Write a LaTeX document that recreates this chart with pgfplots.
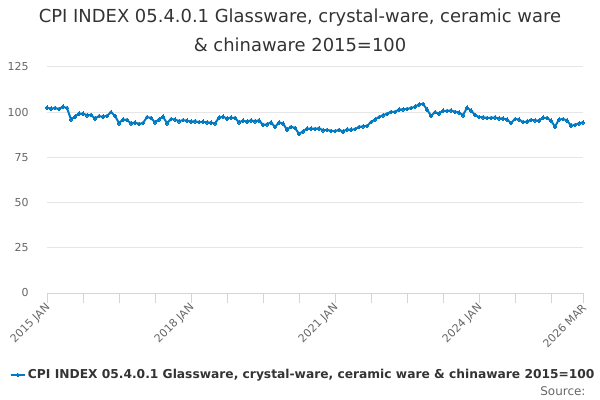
\documentclass[border=0pt]{standalone}
\usepackage{fontspec}
\setmainfont{DejaVu Sans}
\usepackage{pgfplots}
\usepackage{pgfplotstable}
\pgfplotsset{compat=1.18}
\definecolor{linec}{RGB}{0,122,195}
\definecolor{axisc}{RGB}{204,214,235}
\definecolor{gridc}{RGB}{230,230,230}
\definecolor{labc}{RGB}{102,102,102}
\definecolor{titc}{RGB}{51,51,51}
\pgfplotstableread{
m v
0 102.5
1 102.0
2 102.3
3 101.8
4 103.0
5 102.3
6 96.0
7 97.5
8 99.3
9 99.2
10 98.3
11 98.5
12 96.5
13 97.8
14 97.5
15 98.0
16 100.0
17 98.0
18 93.9
19 96.0
20 95.7
21 93.8
22 94.3
23 93.5
24 94.0
25 97.3
26 96.8
27 94.4
28 96.0
29 97.5
30 93.9
31 96.2
32 96.0
33 95.0
34 95.6
35 95.3
36 94.8
37 95.0
38 94.5
39 94.7
40 94.4
41 94.2
42 93.8
43 97.0
44 97.5
45 96.5
46 97.0
47 96.8
48 94.4
49 95.3
50 94.8
51 95.5
52 95.0
53 95.5
54 93.0
55 93.3
56 94.4
57 91.8
58 94.4
59 93.8
60 90.3
61 91.9
62 91.3
63 88.0
64 89.4
65 90.9
66 91.0
67 90.8
68 91.1
69 90.0
70 90.2
71 89.7
72 89.5
73 90.2
74 89.3
75 90.5
76 90.3
77 90.6
78 91.8
79 92.2
80 92.4
81 94.5
82 96.0
83 97.3
84 98.3
85 99.1
86 100.2
87 100.2
88 101.5
89 101.6
90 101.8
91 102.3
92 103.0
93 104.3
94 104.6
95 101.5
96 98.0
97 100.0
98 99.3
99 100.8
100 100.7
101 101.0
102 100.2
103 99.9
104 98.3
105 102.5
106 101.0
107 98.5
108 97.3
109 97.2
110 96.8
111 96.9
112 97.1
113 96.6
114 96.5
115 96.0
116 94.0
117 96.2
118 96.0
119 94.5
120 94.8
121 95.7
122 95.5
123 95.3
124 97.0
125 96.8
126 95.3
127 92.0
128 96.0
129 96.2
130 95.5
131 92.5
132 93.0
133 93.8
134 94.4
}\cpidata
\begin{document}
\begin{tikzpicture}
\path[use as bounding box] (0bp,0bp) rectangle (600bp,400bp);
\node[text=titc, font=\fontsize{18}{21}\selectfont] at (300bp,382bp) {CPI INDEX 05.4.0.1 Glassware, crystal-ware, ceramic ware};
\node[text=titc, font=\fontsize{18}{21}\selectfont] at (300bp,355bp) {\& chinaware 2015=100};
\begin{axis}[
  at={(47bp,107bp)}, anchor=south west,
  scale only axis, width=536bp, height=226bp,
  xmin=0, xmax=134, ymin=0, ymax=125,
  ytick={0,25,50,75,100,125},
  ymajorgrids, grid style={gridc, line width=1bp},
  axis x line*=bottom, axis y line*=left,
  x axis line style={axisc, line width=1bp, -},
  y axis line style={draw=none},
  xtick style={axisc, line width=1bp},
  minor xtick={9,18,27,45,54,63,81,90,99,117,126},
  ytick style={draw=none},
  tick align=outside, major tick length=10bp, minor tick length=10bp,
  xtick={0,36,72,108,134},
  xticklabels={{2015 JAN},{2018 JAN},{2021 JAN},{2024 JAN},{2026 MAR}},
  xticklabel style={rotate=45, anchor=east, text=labc, font=\fontsize{11}{13}\selectfont, inner sep=1bp, yshift=-3bp},
  yticklabel style={text=labc, font=\fontsize{11}{13}\selectfont, xshift=-5bp},
  /pgf/number format/assume math mode=true,
  clip=false,
  legend style={at={(0.478,-0.363)}, anchor=center, draw=none, fill=none,
    font=\bfseries\fontsize{12.3}{14}\selectfont, text=titc, inner sep=0pt},
  legend image code/.code={\draw[mark repeat=2, mark phase=2, line width=2bp] plot coordinates {(0bp,0bp) (7bp,0bp) (14bp,0bp)};},
]
\addplot[color=linec, line width=2bp, mark=*, mark size=1.8bp, mark options={fill=linec, draw=linec, line width=0pt}] table[x=m, y=v] {\cpidata};
\addlegendentry{CPI INDEX 05.4.0.1 Glassware, crystal-ware, ceramic ware \& chinaware 2015=100}
\end{axis}
\node[anchor=east, text=labc, font=\fontsize{12}{14}\selectfont] at (589bp,9bp) {Source:};
\end{tikzpicture}
\end{document}
